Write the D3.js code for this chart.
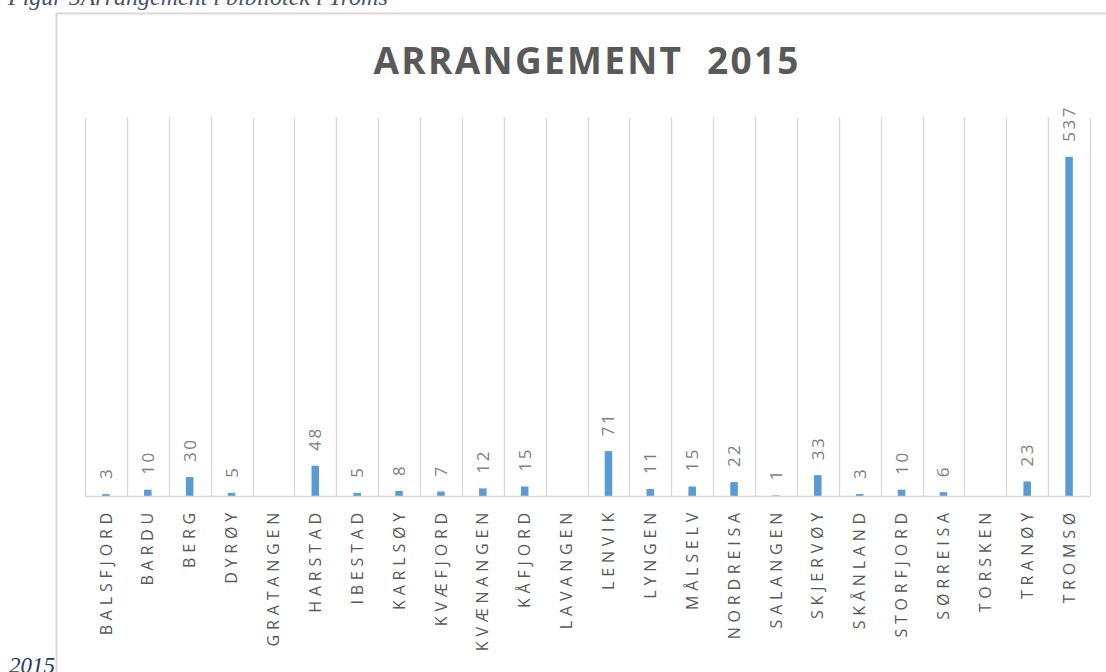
<!DOCTYPE html>
<html>
<head>
<meta charset="utf-8">
<script src="https://cdn.jsdelivr.net/npm/d3@7"></script>
<style>
  body { margin: 0; background: #fff; }
  svg { display: block; }
</style>
</head>
<body>
<div id="chart"></div>
<script>
var svgWidth = 1106;
var svgHeight = 672;

// data (null = no label / no bar)
var kommuner = ["BALSFJORD", "BARDU", "BERG", "DYRØY", "GRATANGEN", "HARSTAD", "IBESTAD",
  "KARLSØY", "KVÆFJORD", "KVÆNANGEN", "KÅFJORD", "LAVANGEN", "LENVIK", "LYNGEN", "MÅLSELV",
  "NORDREISA", "SALANGEN", "SKJERVØY", "SKÅNLAND", "STORFJORD", "SØRREISA", "TORSKEN",
  "TRANØY", "TROMSØ"];
var arrangement = [3, 10, 30, 5, null, 48, 5, 8, 7, 12, 15, null, 71, 11, 15, 22, 1, 33, 3,
  10, 6, null, 23, 537];
var yMax = 600;

var margin = { top: 117, right: 16, bottom: 176, left: 85 };
var width = svgWidth - margin.left - margin.right;
var height = svgHeight - margin.top - margin.bottom;

var svg = d3.select("#chart")
  .append("svg")
  .attr("width", svgWidth)
  .attr("height", svgHeight);

// frame of the embedded chart
svg.append("line")
  .attr("x1", 56.5).attr("x2", 56.5)
  .attr("y1", 13).attr("y2", svgHeight)
  .attr("stroke", "#d9d9d9").attr("stroke-width", 2);
svg.append("line")
  .attr("x1", 56).attr("x2", svgWidth)
  .attr("y1", 13.5).attr("y2", 13.5)
  .attr("stroke", "#d9d9d9").attr("stroke-width", 2);

// document caption (cut off at top) and year at bottom left
svg.append("text")
  .attr("x", 8).attr("y", 5)
  .style("font-family", "'Liberation Serif', 'DejaVu Serif', serif")
  .style("font-style", "italic")
  .style("font-size", "24px")
  .attr("fill", "#44546a")
  .text("Figur 5Arrangement i bibliotek i Troms");

svg.append("text")
  .attr("x", 9).attr("y", 673)
  .style("font-family", "'Liberation Serif', 'DejaVu Serif', serif")
  .style("font-style", "italic")
  .style("font-size", "23px")
  .attr("fill", "#1f3864")
  .text("2015");

// title
svg.append("text")
  .attr("x", 586).attr("y", 74)
  .attr("text-anchor", "middle")
  .style("font-family", "'Open Sans', sans-serif")
  .style("font-weight", "bold")
  .style("font-size", "37px")
  .style("white-space", "pre")
  .attr("fill", "#595959")
  .attr("textLength", 425)
  .attr("lengthAdjust", "spacing")
  .text("ARRANGEMENT  2015");

var chartGroup = svg.append("g")
  .attr("transform", `translate(${margin.left}, ${margin.top})`);

var xScale = d3.scaleBand()
  .domain(kommuner)
  .range([0, width])
  .padding(0);

var yScale = d3.scaleLinear()
  .domain([0, yMax])
  .range([height, 0]);

// vertical gridlines at the category boundaries
var bounds = kommuner.map(d => xScale(d)).concat([width]);
chartGroup.selectAll(".grid")
  .data(bounds)
  .enter()
  .append("line")
  .attr("class", "grid")
  .attr("x1", d => Math.round(d) + 0.5)
  .attr("x2", d => Math.round(d) + 0.5)
  .attr("y1", 0)
  .attr("y2", height)
  .attr("stroke", "#d9d9d9")
  .attr("stroke-width", 1.3);

var barW = xScale.bandwidth() * 0.18;
var rows = kommuner.map((k, i) => ({ name: k, value: arrangement[i] }));

chartGroup.selectAll(".bar")
  .data(rows.filter(d => d.value !== null))
  .enter()
  .append("rect")
  .attr("class", "bar")
  .attr("x", d => xScale(d.name) + xScale.bandwidth() / 2 - barW / 2)
  .attr("y", d => yScale(d.value))
  .attr("width", barW)
  .attr("height", d => height - yScale(d.value))
  .attr("fill", "#5b9bd5");

// baseline
chartGroup.append("line")
  .attr("x1", 0).attr("x2", width)
  .attr("y1", height + 0.5).attr("y2", height + 0.5)
  .attr("stroke", "#d9d9d9")
  .attr("stroke-width", 1.5);

// value labels, rotated
chartGroup.selectAll(".val")
  .data(rows.filter(d => d.value !== null))
  .enter()
  .append("text")
  .attr("class", "val")
  .attr("transform", d => `translate(${xScale(d.name) + xScale.bandwidth() / 2}, ${yScale(d.value) - 15}) rotate(-90)`)
  .attr("dy", "0.35em")
  .attr("text-anchor", "start")
  .style("font-family", "'Open Sans', sans-serif")
  .style("font-size", "17px")
  .style("letter-spacing", "2.5px")
  .attr("fill", "#7f7f7f")
  .text(d => d.value);

// category labels, rotated
chartGroup.selectAll(".cat")
  .data(kommuner)
  .enter()
  .append("text")
  .attr("class", "cat")
  .attr("transform", d => `translate(${xScale(d) + xScale.bandwidth() / 2}, ${height + 12}) rotate(-90)`)
  .attr("dy", "0.35em")
  .attr("text-anchor", "end")
  .style("font-family", "'Open Sans', sans-serif")
  .style("font-size", "16px")
  .style("letter-spacing", "4.8px")
  .attr("fill", "#595959")
  .text(d => d);
</script>
</body>
</html>
